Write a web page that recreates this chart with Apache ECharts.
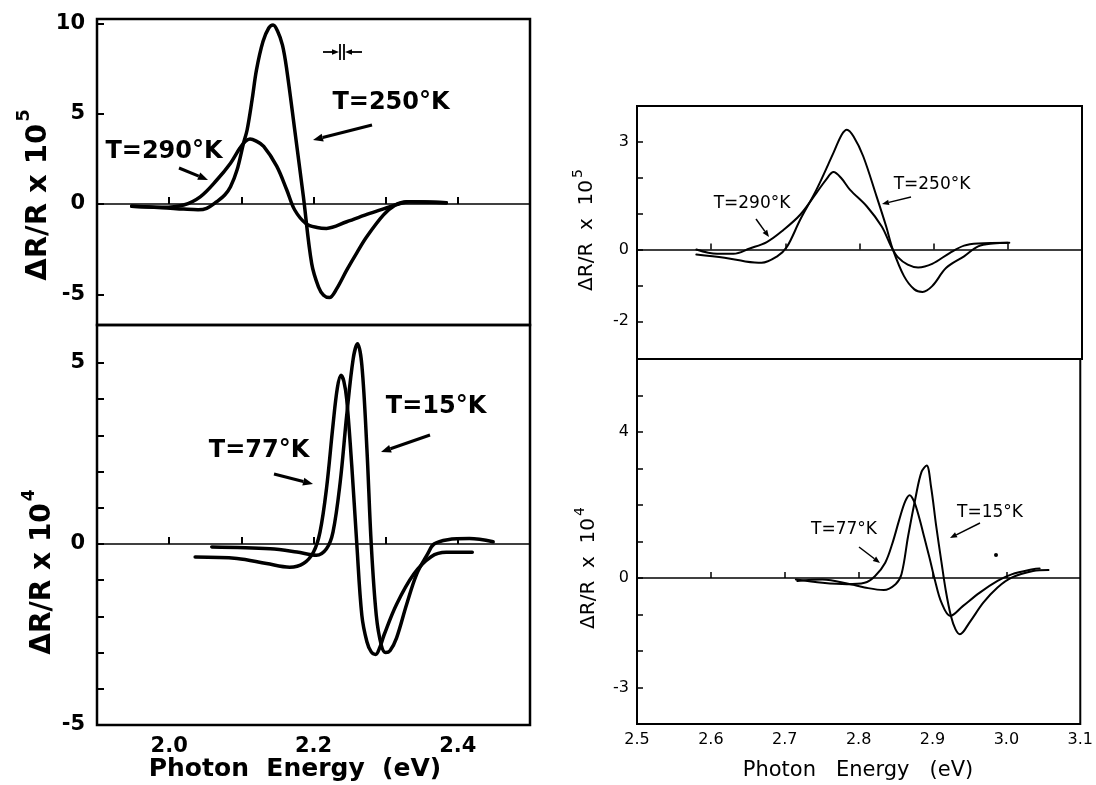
<!DOCTYPE html>
<html>
<head>
<meta charset="utf-8">
<script src="https://cdn.jsdelivr.net/npm/echarts@6/dist/echarts.min.js"></script>
<style>
html, body { margin: 0; background: #fff; }
#main { width: 1096px; height: 785px; }
</style>
</head>
<body>
<div id="main"></div>
<script>
// left panels: photon energy (eV) vs dR/R ; top x1e-5, bottom x1e-4
var leftTop250 = [[1.948,-0.12],[1.99,-0.2],[2.02,-0.28],[2.04,-0.32],[2.052,-0.24],[2.066,0.13],[2.077,0.5],[2.085,0.96],[2.094,1.88],[2.103,3.37],[2.108,4.1],[2.115,5.8],[2.121,7.43],[2.13,9.0],[2.138,9.75],[2.144,9.92],[2.15,9.6],[2.157,8.8],[2.163,7.43],[2.174,4.1],[2.186,0.4],[2.1975,-3.3],[2.207,-4.6],[2.214,-5.05],[2.222,-5.18],[2.232,-4.7],[2.246,-3.66],[2.26,-2.7],[2.274,-1.8],[2.297,-0.6],[2.313,-0.06],[2.329,0.13],[2.355,0.12],[2.384,0.07]];
var leftTop290 = [[1.948,-0.12],[1.99,-0.18],[2.02,-0.05],[2.043,0.4],[2.066,1.33],[2.085,2.26],[2.098,3.1],[2.105,3.45],[2.112,3.6],[2.12,3.5],[2.131,3.2],[2.149,2.1],[2.163,0.78],[2.174,-0.33],[2.19,-1.1],[2.205,-1.3],[2.218,-1.35],[2.246,-0.98],[2.278,-0.52],[2.306,-0.15],[2.315,-0.03],[2.333,0.13],[2.36,0.12],[2.384,0.07]];
var leftBot77 = [[2.036,-0.36],[2.094,-0.4],[2.135,-0.54],[2.167,-0.64],[2.186,-0.54],[2.2,-0.22],[2.209,0.33],[2.218,1.53],[2.227,3.28],[2.233,4.3],[2.238,4.66],[2.242,4.5],[2.246,4.0],[2.253,2.17],[2.26,0],[2.267,-1.97],[2.274,-2.7],[2.28,-2.98],[2.286,-3.05],[2.292,-2.85],[2.298,-2.5],[2.315,-1.67],[2.339,-0.83],[2.363,-0.35],[2.384,-0.23],[2.42,-0.23]];
var leftBot15 = [[2.059,-0.08],[2.14,-0.13],[2.177,-0.22],[2.204,-0.31],[2.218,-0.13],[2.227,0.33],[2.237,1.71],[2.246,3.55],[2.255,5.12],[2.261,5.53],[2.267,4.94],[2.274,2.63],[2.28,0],[2.287,-1.97],[2.294,-2.8],[2.3,-3.0],[2.306,-2.95],[2.315,-2.6],[2.329,-1.67],[2.343,-0.83],[2.358,-0.28],[2.367,0],[2.386,0.12],[2.416,0.15],[2.449,0.06]];

// right panels: top x1e-5, bottom x1e-4
var rightTop290 = [[2.58,0],[2.608,-0.12],[2.63,-0.12],[2.652,0.03],[2.675,0.21],[2.697,0.54],[2.72,0.97],[2.742,1.58],[2.755,1.95],[2.765,2.16],[2.775,2.0],[2.787,1.67],[2.81,1.2],[2.83,0.64],[2.843,0.07],[2.852,-0.22],[2.865,-0.42],[2.879,-0.5],[2.898,-0.4],[2.922,-0.09],[2.941,0.11],[2.96,0.17],[3.0,0.19]];
var rightTop250 = [[2.58,-0.14],[2.618,-0.23],[2.646,-0.33],[2.668,-0.37],[2.689,-0.19],[2.702,0.07],[2.72,0.83],[2.742,1.67],[2.765,2.7],[2.776,3.2],[2.783,3.34],[2.792,3.15],[2.805,2.6],[2.823,1.48],[2.836,0.64],[2.845,0],[2.86,-0.74],[2.874,-1.11],[2.885,-1.18],[2.898,-1.02],[2.917,-0.51],[2.941,-0.19],[2.96,0.09],[2.98,0.17],[3.002,0.19]];
var rightBot77 = [[2.715,-0.04],[2.751,-0.13],[2.784,-0.17],[2.808,-0.13],[2.822,0.05],[2.836,0.42],[2.846,0.97],[2.855,1.6],[2.863,2.1],[2.869,2.27],[2.875,2.1],[2.882,1.65],[2.889,1.1],[2.896,0.55],[2.903,-0.04],[2.912,-0.67],[2.924,-1.04],[2.941,-0.77],[2.964,-0.4],[2.988,-0.08],[3.007,0.1],[3.036,0.24],[3.045,0.26]];
var rightBot15 = [[2.717,-0.08],[2.751,-0.04],[2.789,-0.17],[2.808,-0.26],[2.834,-0.33],[2.85,-0.17],[2.858,0.1],[2.867,1.15],[2.877,2.2],[2.885,2.9],[2.892,3.08],[2.898,2.5],[2.905,1.42],[2.912,0.45],[2.918,-0.35],[2.925,-1.05],[2.931,-1.4],[2.937,-1.54],[2.95,-1.22],[2.969,-0.67],[2.988,-0.26],[3.007,0.01],[3.036,0.19],[3.057,0.22]];

// ticks and labels
var leftXTicks = [2.0, 2.1, 2.2, 2.3, 2.4];
var leftXLabels = [2.0, 2.2, 2.4];
var rightXTicks = [2.6, 2.7, 2.8, 2.9, 3.0];
var rightXLabels = [2.5, 2.6, 2.7, 2.8, 2.9, 3.0, 3.1];
var ltYTicks = [-5, 0, 5, 10];
var ltYLabels = [-5, 0, 5, 10];
var lbYTicks = [-5, -4, -3, -2, -1, 0, 1, 2, 3, 4, 5];
var lbYLabels = [-5, 0, 5];
var rtYTicks = [-2, -1, 0, 1, 2, 3];
var rtYLabels = [-2, 0, 3];
var rbYTicks = [-3, -2, -1, 0, 1, 2, 3, 4, 5];
var rbYLabels = [-3, 0, 4];

var FONT = 'DejaVu Sans';

function xAxis(grid, min, max, ticks, labels, bold) {
    return {
        type: 'value', gridIndex: grid, min: min, max: max,
        axisLine: {show: false}, splitLine: {show: false},
        axisTick: {show: true, inside: true, length: bold ? 7 : 6, customValues: ticks,
            lineStyle: {color: '#000', width: bold ? 2 : 1.5}},
        axisLabel: {show: labels.length > 0, customValues: labels, margin: bold ? 11 : 8,
            color: '#000', fontFamily: FONT, fontSize: bold ? 21 : 16, fontWeight: bold ? 'bold' : 'normal',
            formatter: function (v) { return v.toFixed(1); }}
    };
}

function yAxis(grid, min, max, ticks, labels, bold) {
    return {
        type: 'value', gridIndex: grid, min: min, max: max,
        axisLine: {show: false}, splitLine: {show: false},
        axisTick: {show: true, inside: true, length: bold ? 7 : 6, customValues: ticks,
            lineStyle: {color: '#000', width: bold ? 2 : 1.5}},
        axisLabel: {customValues: labels, margin: bold ? 12 : 8,
            color: '#000', fontFamily: FONT, fontSize: bold ? 21 : 16, fontWeight: bold ? 'bold' : 'normal',
            formatter: function (v) { return String(Math.round(v)); }}
    };
}

function curve(grid, data, w, zero) {
    var s = {
        type: 'line', xAxisIndex: grid, yAxisIndex: grid, data: data,
        showSymbol: false, smooth: 0.35,
        lineStyle: {color: '#000', width: w, cap: 'round', join: 'round'}, silent: true
    };
    if (zero) {
        s.markLine = {silent: true, symbol: 'none', label: {show: false},
            lineStyle: {color: '#000', width: 1.5, type: 'solid'}, data: [{yAxis: 0}]};
    }
    return s;
}

function label(x, y, text, size, bold, rot) {
    return {type: 'text', x: x, y: y, rotation: rot || 0, z: 10,
        style: {text: text, fontSize: size, fontWeight: bold ? 'bold' : 'normal', fontFamily: FONT,
            fill: '#000', align: 'center', verticalAlign: 'middle'}};
}

// rotated axis name with a raised exponent
function yName(x, y, base, exp, size, bold) {
    var w = bold ? 'bold' : 'normal';
    return {type: 'text', x: x, y: y, rotation: Math.PI / 2, z: 10,
        style: {text: '{a|' + base + '}{b|' + exp + '}', align: 'center', verticalAlign: 'middle', fill: '#000',
            rich: {
                a: {fontSize: size, fontWeight: w, fontFamily: FONT, lineHeight: size * 1.3, verticalAlign: 'bottom'},
                b: {fontSize: Math.round(size * (bold ? 0.62 : 0.72)), fontWeight: w, fontFamily: FONT, verticalAlign: 'top',
                    lineHeight: size * 1.3, padding: [0, 0, 0, 2]}
            }}};
}

function arrow(x1, y1, x2, y2, w, head) {
    var a = Math.atan2(y2 - y1, x2 - x1);
    var bx = x2 - head * Math.cos(a), by = y2 - head * Math.sin(a);
    var nx = -Math.sin(a) * head * 0.4, ny = Math.cos(a) * head * 0.4;
    return [
        {type: 'line', shape: {x1: x1, y1: y1, x2: bx, y2: by}, style: {stroke: '#000', lineWidth: w}},
        {type: 'polygon', shape: {points: [[x2, y2], [bx + nx, by + ny], [bx - nx, by - ny]]}, style: {fill: '#000'}}
    ];
}

var graphics = [
    label(164, 152, 'T=290°K', 24, true),
    label(391, 103, 'T=250°K', 24, true),
    label(436, 407, 'T=15°K', 24, true),
    label(259, 451, 'T=77°K', 24, true),
    label(752, 204, 'T=290°K', 17, false),
    label(932, 185, 'T=250°K', 17, false),
    label(844, 530, 'T=77°K', 17, false),
    label(990, 513, 'T=15°K', 17, false),
    yName(34, 195, 'ΔR/R x 10', '5', 29, true),
    yName(39, 572, 'ΔR/R x 10', '4', 28, true),
    yName(584, 230, 'ΔR/R  x  10', '5', 20, false),
    yName(586, 568, 'ΔR/R  x  10', '4', 20, false),
    label(295, 769, 'Photon  Energy  (eV)', 25, true),
    label(858, 771, 'Photon   Energy   (eV)', 21, false),
    // spectral resolution marker
    {type: 'line', shape: {x1: 340, y1: 44, x2: 340, y2: 60}, style: {stroke: '#000', lineWidth: 1.8}},
    {type: 'line', shape: {x1: 344, y1: 44, x2: 344, y2: 60}, style: {stroke: '#000', lineWidth: 1.8}},
    {type: 'circle', shape: {cx: 996, cy: 555, r: 2}, style: {fill: '#000'}}
];
graphics = graphics
    .concat(arrow(179, 168, 208, 180, 3, 10))
    .concat(arrow(372, 125, 313, 140, 3, 10))
    .concat(arrow(430, 435, 381, 452, 3, 10))
    .concat(arrow(274, 474, 313, 484, 3, 10))
    .concat(arrow(756, 219, 769, 237, 1.5, 7))
    .concat(arrow(911, 197, 882, 204, 1.5, 7))
    .concat(arrow(859, 547, 880, 563, 1.5, 7))
    .concat(arrow(980, 523, 950, 538, 1.5, 7))
    .concat(arrow(323, 52, 339, 52, 1.8, 7))
    .concat(arrow(362, 52, 345, 52, 1.8, 7));

var chart = echarts.init(document.getElementById('main'));
var option = {
    animation: false,
    backgroundColor: '#fff',
    textStyle: {fontFamily: FONT},
    grid: [
        {left: 97, top: 19, width: 433, height: 306, show: true, borderColor: '#000', borderWidth: 2.5},
        {left: 97, top: 325, width: 433, height: 400, show: true, borderColor: '#000', borderWidth: 2.5},
        {left: 637, top: 106, width: 445, height: 253, show: true, borderColor: '#000', borderWidth: 2},
        {left: 637, top: 359, width: 445, height: 365, show: true, borderColor: '#000', borderWidth: 2}
    ],
    xAxis: [
        xAxis(0, 1.9, 2.5, leftXTicks, [], true),
        xAxis(1, 1.9, 2.5, leftXTicks, leftXLabels, true),
        xAxis(2, 2.5, 3.1, rightXTicks, [], false),
        xAxis(3, 2.5, 3.1, rightXTicks, rightXLabels, false)
    ],
    yAxis: [
        yAxis(0, -6.7, 10.25, ltYTicks, ltYLabels, true),
        yAxis(1, -5, 6.05, lbYTicks, lbYLabels, true),
        yAxis(2, -3.05, 4, rtYTicks, rtYLabels, false),
        yAxis(3, -4, 6, rbYTicks, rbYLabels, false)
    ],
    series: [
        curve(0, leftTop250, 3.5, true),
        curve(0, leftTop290, 3.5, false),
        curve(1, leftBot77, 3.5, true),
        curve(1, leftBot15, 3.5, false),
        curve(2, rightTop290, 2, true),
        curve(2, rightTop250, 2, false),
        curve(3, rightBot77, 2, true),
        curve(3, rightBot15, 2, false)
    ],
    graphic: graphics
};
chart.setOption(option);
</script>
</body>
</html>
